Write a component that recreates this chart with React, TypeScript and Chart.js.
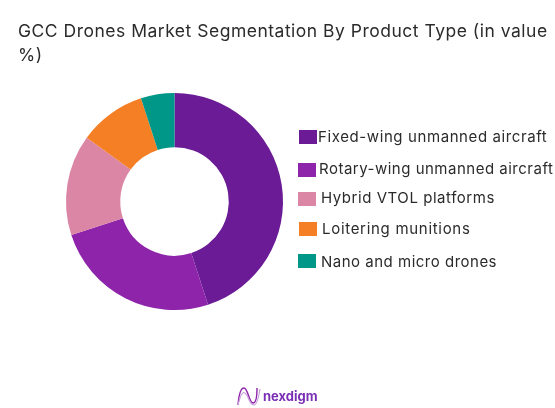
import React, { useRef, useEffect } from 'react';
import Chart from 'chart.js/auto';

const titleLines = ['GCC Drones Market Segmentation By Product Type (in value', '%)'];
const categories = [
    'Fixed-wing unmanned aircraft',
    'Rotary-wing unmanned aircraft',
    'Hybrid VTOL platforms',
    'Loitering munitions',
    'Nano and micro drones',
];
const shares = [45, 25, 15, 10, 5];
const colors = ['#6A1B95', '#8E24AA', '#DC86A5', '#F57F25', '#009688'];

// legend is hand placed in the original, rows are not evenly spaced
const swatchTops = [130, 163, 192, 222, 254];
const labelLefts = [318, 319, 321, 322, 321];
const labelCentres = [137, 169, 198, 229, 262];
const swatchLefts = [299, 298, 298, 299, 298];
const labelSpacing = [0.6, 0.5, 0.55, 0.7, 0.5];

const App = () => {
    const chartRef = useRef<HTMLCanvasElement>(null);

    useEffect(() => {
        if (chartRef.current) {
            const myChart = new Chart(chartRef.current, {
                type: 'doughnut',
                data: {
                    labels: categories,
                    datasets: [
                        {
                            data: shares,
                            backgroundColor: colors,
                            borderWidth: 0,
                        },
                    ],
                },
                options: {
                    animation: false,
                    responsive: false,
                    cutout: '50%',
                    layout: { padding: { left: 66, right: 272, top: 93, bottom: 98 } },
                    plugins: {
                        legend: { display: false },
                        tooltip: { enabled: false },
                    },
                },
            });
            return () => myChart.destroy();
        }
    }, []);

    const font = 'Inter, "Noto Sans", sans-serif';

    return (
        <div style={{ position: 'fixed', left: 0, top: 0, width: 555, height: 408, background: '#fff', overflow: 'hidden', fontFamily: font }}>
            <canvas ref={chartRef} width={555} height={408} style={{ position: 'absolute', left: 0, top: 0, width: 555, height: 408 }} />
            {titleLines.map((line, i) => (
                <div
                    key={line}
                    style={{
                        position: 'absolute',
                        left: 18,
                        top: 20 + i * 24,
                        fontSize: 17.5,
                        letterSpacing: 0.5,
                        lineHeight: '22px',
                        color: '#2b2b2b',
                        whiteSpace: 'nowrap',
                    }}
                >
                    {line}
                </div>
            ))}
            {categories.map((name, i) => (
                <React.Fragment key={name}>
                    <div
                        style={{
                            position: 'absolute',
                            left: swatchLefts[i],
                            top: swatchTops[i],
                            width: 18,
                            height: 14,
                            background: colors[i],
                        }}
                    />
                    <div
                        style={{
                            position: 'absolute',
                            left: labelLefts[i],
                            top: labelCentres[i] - 10,
                            fontSize: 15,
                            letterSpacing: labelSpacing[i],
                            lineHeight: '20px',
                            color: '#2b2b2b',
                            whiteSpace: 'nowrap',
                        }}
                    >
                        {name}
                    </div>
                </React.Fragment>
            ))}
            <svg style={{ position: 'absolute', left: 236, top: 385 }} width={26} height={22} viewBox="0 0 26 22">
                <path d="M2 20 C3 8 5 3 8 3 C12 3 13 18 17 18 C20 18 21 10 21 3" fill="none" stroke="#8E24AA" strokeWidth={1.4} />
                <path d="M2 20 C4 12 6 6 9 8 C13 11 13 20 18 20 C21 20 23 10 24 4" fill="none" stroke="#C9A3DC" strokeWidth={1.2} />
            </svg>
            <div
                style={{
                    position: 'absolute',
                    left: 263,
                    top: 386,
                    fontSize: 13,
                    lineHeight: '20px',
                    fontWeight: 700,
                    color: '#7B2FB5',
                    whiteSpace: 'nowrap',
                }}
            >
                nexdigm
            </div>
        </div>
    );
};

export default App;
